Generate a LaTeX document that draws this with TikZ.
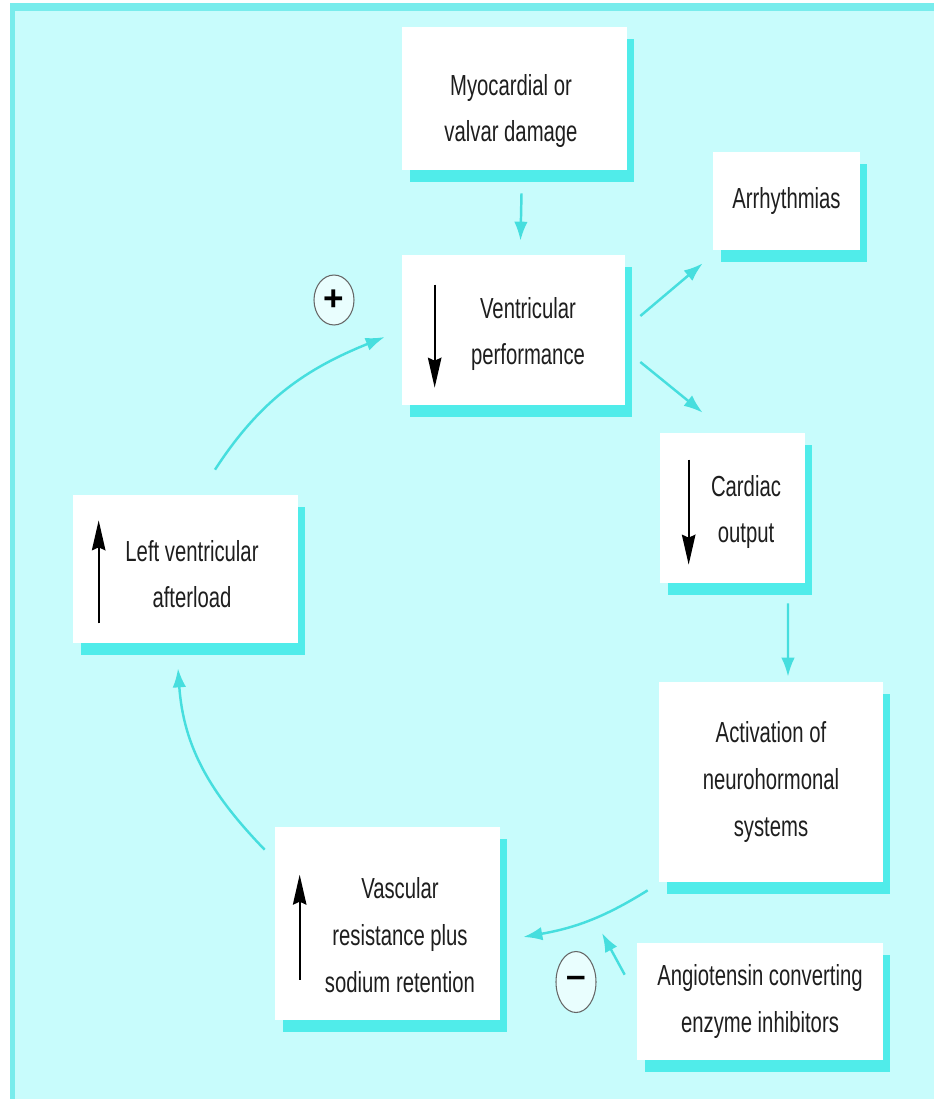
\documentclass[tikz,border=0pt]{standalone}
\usepackage{fontspec}
\setmainfont{Liberation Sans}[FakeStretch=0.7]
\newfontfamily\signfont{Liberation Sans}
\usetikzlibrary{shapes.geometric,arrows.meta,shadows,calc}
\definecolor{bgcyan}{RGB}{200,252,252}
\definecolor{edgecyan}{RGB}{120,236,236}
\definecolor{shcyan}{RGB}{80,236,234}
\definecolor{arcyan}{RGB}{70,222,222}
\definecolor{txt}{RGB}{30,30,30}
\begin{document}
\begin{tikzpicture}[x=0.02cm,y=-0.02cm,
  box/.style={fill=white, inner sep=0pt,
    drop shadow={shadow xshift=0.15cm, shadow yshift=-0.24cm, fill=shcyan, opacity=1}},
  lbl/.style={align=center, text=txt, font=\fontsize{16.5}{26.6}\selectfont},
  flow/.style={draw=arcyan, line width=1.4pt, -{Latex[length=0.38cm,width=0.27cm]}},
  updown/.style={draw=black, line width=1.1pt, -{Stealth[length=0.6cm,width=0.27cm,inset=0.06cm]}},
  sign/.style={ellipse, draw=black!60, line width=0.6pt, fill=bgcyan!40!white,
    minimum width=0.8cm, inner sep=0pt,
    font=\signfont\bfseries\fontsize{20}{20}\selectfont}
]
\useasboundingbox (0,0) rectangle (934,1099);
% background
\fill[white] (0,0) rectangle (934,1099);
\fill[bgcyan] (10,3) rectangle (934,1099);
\fill[edgecyan] (10,3) rectangle (934,11);
\fill[edgecyan] (10,3) rectangle (15,1099);

% boxes
\node[box, minimum width=4.5cm, minimum height=2.86cm] (myo) at (514.5,98.5) {};
\node[box, lbl, minimum width=2.94cm, minimum height=1.96cm] (arr) at (786.5,201) {Arrhythmias};
\node[box, minimum width=4.46cm, minimum height=3.0cm] (vp) at (513.5,330) {};
\node[box, minimum width=2.9cm, minimum height=3.0cm] (co) at (732.5,508) {};
\node[box, lbl, minimum width=4.48cm, minimum height=4.0cm] (act) at (771,782) {Activation of\\neurohormonal\\systems};
\node[box, lbl, minimum width=4.92cm, minimum height=2.34cm] (ace) at (760,1001.5) {Angiotensin converting\\enzyme inhibitors};
\node[box, minimum width=4.5cm, minimum height=3.86cm] (vasc) at (387.5,923.5) {};
\node[box, minimum width=4.5cm, minimum height=2.96cm] (lva) at (185.5,569) {};

% texts
\node[lbl] (myot) at (511,111) {Myocardial or\\valvar damage};
\node[lbl] (vpt) at (528,334) {Ventricular\\performance};
\node[lbl] (cot) at (746,512) {Cardiac\\output};
\node[lbl] (lvat) at (192,574) {Left ventricular\\afterload};
\node[lbl] (vasct) at (400,935) {Vascular\\resistance plus\\sodium retention};

% black up/down arrows
\draw[updown] ($(vp.north west)+(33,30)$) -- ($(vp.north west)+(33,133)$);
\draw[updown] ($(co.north west)+(29,27)$) -- ($(co.north west)+(29,132)$);
\draw[updown] ($(lva.south west)+(26,-20)$) -- ($(lva.south west)+(26,-123)$);
\draw[updown] ($(vasc.north west)+(25,153)$) -- ($(vasc.north west)+(25,48)$);

% signs
\node[sign, minimum height=1.0cm] (plus) at (334,300) {+};
\node[sign, minimum height=1.22cm] (minus) at (576,982) {–};

% connectors
\draw[flow] ($(myo.south)+(7,23)$) -- ($(vp.north)+(7,-14)$);
\draw[flow] ($(vp.east)+(15,-14)$) -- ($(arr.south west)+(-10,13)$);
\draw[flow] ($(vp.east)+(15,32)$) -- ($(co.north west)+(43,-20)$);
\draw[flow] ($(co.south)+(55.5,20)$) -- ($(act.north)+(17,-5)$);
\draw[flow] ($(act.south west)+(-11,8)$) to[out=212,in=10] ($(vasc.east)+(23,13.5)$);
\coordinate (acehit) at (602,933);
\draw[flow] ($(ace.north west)+(-12,32)$) -- (acehit);
\draw[flow] ($(vasc.north west)+(-10,23)$) to[out=134,in=-86] ($(lva.south)+(-7.5,25)$);
\draw[flow] ($(lva.north)+(29.5,-25)$) to[out=57,in=202] ($(vp.west)+(-17,7)$);
\end{tikzpicture}
\end{document}
